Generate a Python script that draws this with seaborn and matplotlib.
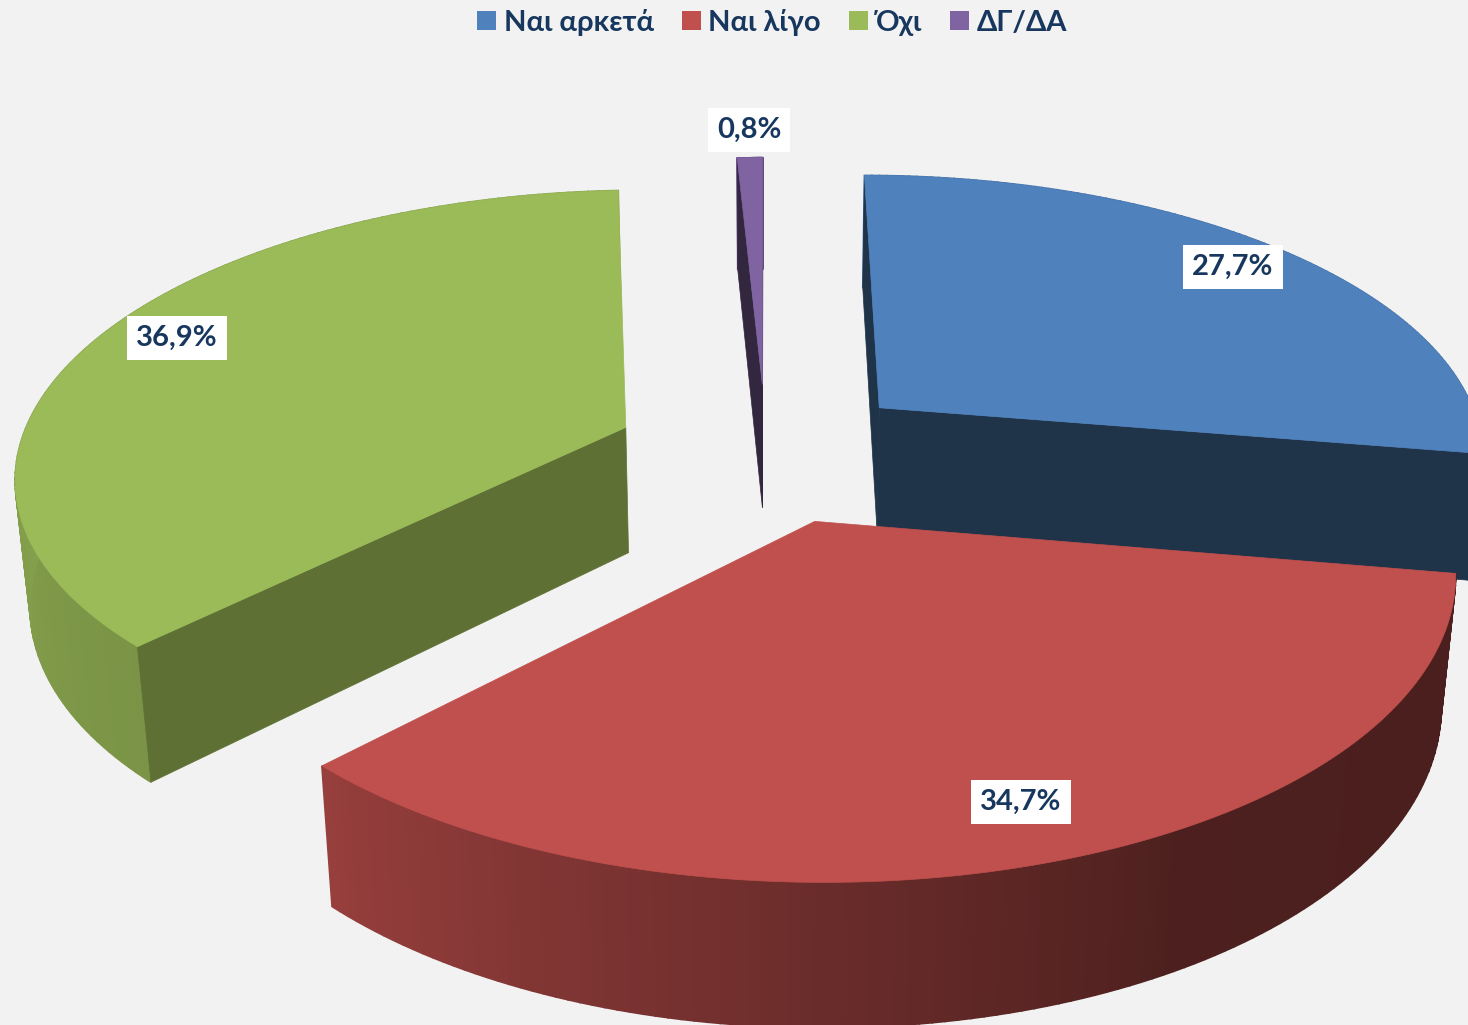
#!/usr/bin/env python3
import numpy as np
import seaborn as sns
import matplotlib.pyplot as plt
from matplotlib.font_manager import FontProperties
from matplotlib.patches import Patch, Polygon

# data
categories = ['Ναι αρκετά', 'Ναι λίγο', 'Όχι', 'ΔΓ/ΔΑ']
shares = [27.7, 34.7, 36.9, 0.8]
share_labels = ['27,7%', '34,7%', '36,9%', '0,8%']

# style
slice_colors = ['#4F81BD', '#C0504D', '#9BBB59', '#8064A2']
cut_colors = ['#1F3349', '#4A1C1C', '#5E7033', '#33263F']
label_pos = [(1233, 267), (1021, 802), (177, 338), (749, 130)]
text_color = '#17375E'
fonts = ['Lato', 'Open Sans', 'DejaVu Sans']

sns.set_theme(style='white', rc={'figure.facecolor': '#F2F2F2', 'axes.facecolor': '#F2F2F2'})
plt.rcParams['font.family'] = fonts
palette = sns.color_palette(slice_colors)

# camera of the 3D pie, in pixels of the picture
CX, CY = 766, 452
RX, RY = 608, 281
PERSP = 0.155
DEPTH, DEPTH_PERSP = 129, 0.02
EXPLODE = 0.25
START_ANGLE = 90.0


def project(x, y, z=0.0):
    # z = 0 top face, z = 1 bottom face
    w = 1 + PERSP * y + DEPTH_PERSP * z
    return CX + RX * x / w, CY - (RY * y - DEPTH * z) / w


def wall_shade(deg):
    # light comes from the left, the front right goes dark
    return np.interp(deg % 360, [180, 225, 300, 360], [0.86, 0.79, 0.40, 0.38])


def faces_camera(apex, rim, inside):
    # a cut face shows only when the slice lies on the far side of its top edge
    ex, ey = rim[0] - apex[0], rim[1] - apex[1]
    side_inside = ex * (inside[1] - apex[1]) - ey * (inside[0] - apex[0])
    side_down = ex * 1
    return side_inside * side_down < 0


fig = plt.figure(figsize=(14.68, 10.25), dpi=100)
ax = fig.add_axes([0, 0, 1, 1])
ax.set_xlim(0, 1468)
ax.set_ylim(1025, 0)
ax.axis('off')

fractions = np.array(shares) / np.sum(shares)
ends = START_ANGLE - 360 * np.cumsum(fractions)
starts = ends + 360 * fractions

# back slices first, red goes on top
for i in [3, 2, 0, 1]:
    t = np.radians(np.linspace(starts[i], ends[i], 121))
    mid = np.radians((starts[i] + ends[i]) / 2)
    ox, oy = EXPLODE * np.cos(mid), EXPLODE * np.sin(mid)
    rim_x, rim_y = ox + np.cos(t), oy + np.sin(t)
    base = np.array(palette[i])

    # outer wall, one shaded strip per step
    for k in range(len(t) - 1):
        shade = base * wall_shade(np.degrees(t[k]))
        corners = [project(rim_x[k], rim_y[k]), project(rim_x[k + 1], rim_y[k + 1]),
                   project(rim_x[k + 1], rim_y[k + 1], 1), project(rim_x[k], rim_y[k], 1)]
        ax.add_patch(Polygon(corners, closed=True, fc=shade, ec=shade, lw=1.2))

    # the cut faces the camera can see
    apex = project(ox, oy)
    inside = project(rim_x[60], rim_y[60])
    for k in [0, -1]:
        rim = project(rim_x[k], rim_y[k])
        if faces_camera(apex, rim, inside):
            corners = [apex, rim, project(rim_x[k], rim_y[k], 1), project(ox, oy, 1)]
            ax.add_patch(Polygon(corners, closed=True, fc=cut_colors[i], ec=cut_colors[i], lw=0.5))

    # top face
    top_x = np.r_[ox, rim_x]
    top_y = np.r_[oy, rim_y]
    px, py = project(top_x, top_y)
    ax.add_patch(Polygon(np.c_[px, py], closed=True, fc=base, ec=base, lw=0.5))

for text, (x, y) in zip(share_labels, label_pos):
    ax.text(x, y, text, ha='center', va='center', color=text_color, fontsize=21,
            fontweight='bold', bbox=dict(boxstyle='square,pad=0.31', fc='white', ec='none'))

handles = [Patch(fc=c, ec='none', label=n) for c, n in zip(palette, categories)]
legend_font = FontProperties(family=fonts, weight='bold', size=21)
leg = ax.legend(handles=handles, loc='upper center', bbox_to_anchor=(0.526, 1.003), ncols=4,
                frameon=False, prop=legend_font, handlelength=0.64, handleheight=0.64,
                handletextpad=0.27, columnspacing=0.97, borderaxespad=0.0)
for text in leg.get_texts():
    text.set_color(text_color)

fig.savefig('out.png', dpi=100, facecolor=fig.get_facecolor())
